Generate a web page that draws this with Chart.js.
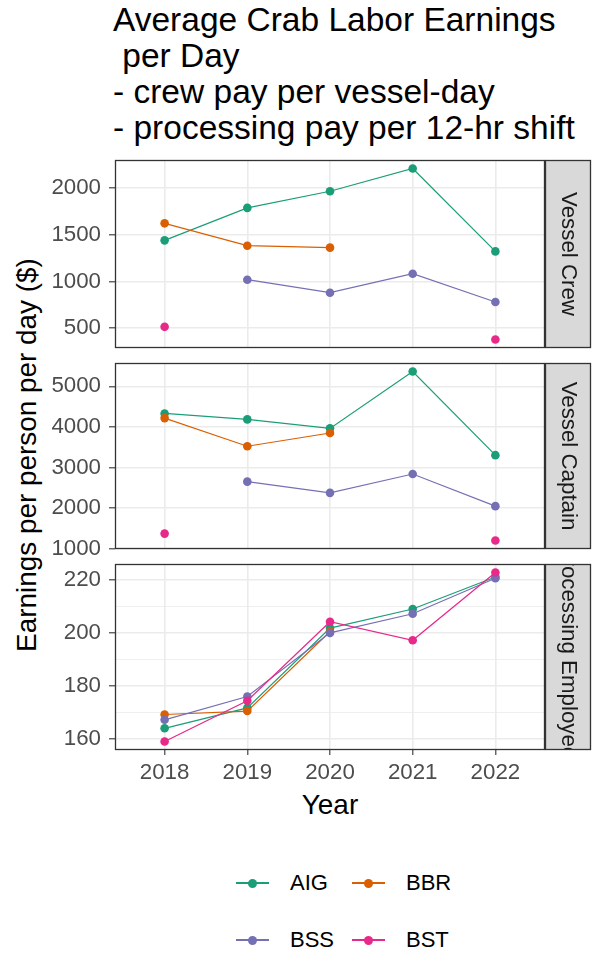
<!DOCTYPE html>
<html>
<head>
<meta charset="utf-8">
<script src="https://cdn.jsdelivr.net/npm/chart.js@4.4.1/dist/chart.umd.min.js"></script>
<style>
  body { margin: 0; background: #fff; }
  #wrap { position: relative; width: 596px; height: 953px; overflow: hidden; background: #fff;
          font-family: "Liberation Sans", Arial, sans-serif; color: #000; }
  canvas { position: absolute; left: 0; }
  #title { position: absolute; left: 113px; top: 2px; font-size: 33.5px; line-height: 36px; white-space: pre; }
  #ytitle { position: absolute; left: 27px; top: 455px; font-size: 27.9px; line-height: 1; white-space: nowrap;
            transform: translate(-50%, -50%) rotate(-90deg); }
  #xtitle { position: absolute; left: 330px; top: 791px; font-size: 27.9px; line-height: 1; transform: translateX(-50%); }
  .key { position: absolute; width: 33px; height: 2px; }
  .key i { position: absolute; left: 12px; top: -3.5px; width: 9px; height: 9px; border-radius: 50%; }
  .lab { position: absolute; font-size: 22px; line-height: 1; transform: translateY(-50%); }
</style>
</head>
<body>
<div id="wrap">
  <div id="title">Average Crab Labor Earnings
 per Day
- crew pay per vessel-day
- processing pay per 12-hr shift</div>
  <div id="ytitle">Earnings per person per day ($)</div>
  <div id="xtitle">Year</div>
  <canvas id="crew" width="596" height="208" style="top:150px"></canvas>
  <canvas id="capt" width="596" height="206" style="top:353px"></canvas>
  <canvas id="proc" width="596" height="246" style="top:554px"></canvas>
  <div id="legend"></div>
</div>
<script>
const years = ['2018', '2019', '2020', '2021', '2022'];
const regions = ['AIG', 'BBR', 'BSS', 'BST'];
const colors = ['#1B9E77', '#D95F02', '#7570B3', '#E7298A'];

// Vessel Crew
const crewAIG = [1439, 1786, 1964, 2207, 1321];
const crewBBR = [1621, 1382, 1361, null, null];
const crewBSS = [null, 1018, 879, 1082, 779];
const crewBST = [514, null, null, null, 379];
// Vessel Captain
const captAIG = [4331, 4184, 3963, 5367, 3302];
const captBBR = [4216, 3522, 3849, null, null];
const captBSS = [null, 2649, 2372, 2837, 2045];
const captBST = [1367, null, null, null, 1196];
// Processing Employees
const procAIG = [164.1, 171.8, 201.9, 209.1, 221.2];
const procBBR = [169.3, 170.6, 200.6, null, null];
const procBSS = [167.3, 176.1, 200.1, 207.3, 220.7];
const procBST = [159.1, 174.5, 204.3, 197.3, 222.9];

const crewTicks = [500, 1000, 1500, 2000];
const crewMinor = [750, 1250, 1750, 2250];
const captTicks = [1000, 2000, 3000, 4000, 5000];
const captMinor = [1500, 2500, 3500, 4500, 5500];
const procTicks = [160, 180, 200, 220];
const procMinor = [170, 190, 210];

const GRID = '#EBEBEB';
const INK = '#333333';
const TICKTXT = '#4D4D4D';
const FONT = '"Liberation Sans", Arial, sans-serif';

const framePlugin = {
  id: 'frame',
  afterDraw(chart, args, opts) {
    const ctx = chart.ctx, a = chart.chartArea;
    const h = a.bottom - a.top;
    ctx.save();
    ctx.strokeStyle = INK;
    ctx.lineWidth = 1.3;
    ctx.strokeRect(a.left + 0.5, a.top + 0.5, a.right - a.left - 1, h - 1);
    const sx = a.right, sw = 46;
    ctx.fillStyle = '#D9D9D9';
    ctx.fillRect(sx, a.top, sw, h);
    ctx.strokeRect(sx + 0.5, a.top + 0.5, sw - 1, h - 1);
    ctx.beginPath();
    ctx.rect(sx + 1, a.top + 1, sw - 2, h - 2);
    ctx.clip();
    ctx.translate(sx + sw / 2, a.top + h / 2);
    ctx.rotate(Math.PI / 2);
    ctx.fillStyle = '#1A1A1A';
    ctx.font = '22.3px ' + FONT;
    ctx.textAlign = 'center';
    ctx.textBaseline = 'middle';
    ctx.fillText(opts.label, 0, 0);
    ctx.restore();
  }
};

function limits(series) {
  const all = series.flat().filter(v => v !== null);
  const lo = Math.min(...all), hi = Math.max(...all), r = hi - lo;
  return [lo - 0.05 * r, hi + 0.05 * r];
}

function makePanel(id, label, series, major, minor, showX) {
  const [lo, hi] = limits(series);
  const ticks = major.concat(minor).sort((a, b) => a - b);
  new Chart(document.getElementById(id), {
    type: 'line',
    data: {
      datasets: series.map((vals, k) => ({
        label: regions[k],
        data: vals.map((v, i) => ({ x: i, y: v })),
        borderColor: colors[k],
        backgroundColor: colors[k],
        borderWidth: 1.2,
        pointRadius: 4.3,
        pointBorderWidth: 0,
        pointHoverRadius: 4.3,
        spanGaps: false,
        order: 3 - k
      }))
    },
    options: {
      responsive: false,
      animation: false,
      devicePixelRatio: 1,
      layout: { padding: { left: 0, right: 51, top: 10, bottom: showX ? 0 : 10 } },
      plugins: { legend: { display: false }, tooltip: { enabled: false }, frame: { label: label } },
      scales: {
        x: {
          type: 'linear', min: -0.6, max: 4.6,
          afterBuildTicks: s => { s.ticks = years.map((y, i) => ({ value: i })); },
          afterFit: s => { s.height = showX ? 50 : 0; s.paddingLeft = 0; s.paddingRight = 0; },
          border: { display: false },
          grid: { color: GRID, lineWidth: 1.6, drawTicks: showX, tickLength: 5, tickColor: INK, tickWidth: 1.1 },
          ticks: {
            display: showX, padding: 4, color: TICKTXT, font: { family: FONT, size: 22.3 },
            callback: v => years[v]
          }
        },
        y: {
          min: lo, max: hi,
          afterBuildTicks: s => { s.ticks = ticks.map(v => ({ value: v })); },
          afterFit: s => { s.width = 115; s.paddingTop = 0; s.paddingBottom = 0; },
          border: { display: false },
          grid: {
            color: GRID,
            lineWidth: c => (minor.includes(c.tick.value) ? 0.8 : 1.6),
            tickLength: 6,
            tickColor: c => (minor.includes(c.tick.value) ? 'rgba(0,0,0,0)' : INK),
            tickWidth: 1.1
          },
          ticks: {
            padding: 8, color: TICKTXT, font: { family: FONT, size: 22.3 },
            callback: v => (major.includes(v) ? String(v) : '')
          }
        }
      }
    },
    plugins: [framePlugin]
  });
}

makePanel('crew', 'Vessel Crew', [crewAIG, crewBBR, crewBSS, crewBST], crewTicks, crewMinor, false);
makePanel('capt', 'Vessel Captain', [captAIG, captBBR, captBSS, captBST], captTicks, captMinor, false);
makePanel('proc', 'Processing Employees', [procAIG, procBBR, procBSS, procBST], procTicks, procMinor, true);

// legend, two rows of two
const legend = document.getElementById('legend');
const legPos = [[236, 883], [352, 883], [236, 940], [352, 940]];
regions.forEach((r, k) => {
  const [x, y] = legPos[k];
  const key = document.createElement('div');
  key.className = 'key';
  key.style.left = x + 'px';
  key.style.top = (y - 1) + 'px';
  key.style.background = colors[k];
  const dot = document.createElement('i');
  dot.style.background = colors[k];
  key.appendChild(dot);
  legend.appendChild(key);
  const lab = document.createElement('div');
  lab.className = 'lab';
  lab.style.left = (x + 54) + 'px';
  lab.style.top = y + 'px';
  lab.textContent = r;
  legend.appendChild(lab);
});
</script>
</body>
</html>
